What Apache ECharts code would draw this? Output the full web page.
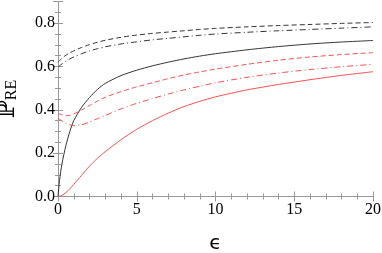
<!DOCTYPE html>
<html><head><meta charset="utf-8">
<script src="https://cdn.jsdelivr.net/npm/echarts@6/dist/echarts.min.js"></script>
<style>html,body{margin:0;padding:0;background:#fff}#c{width:382px;height:253px}</style>
</head><body><div id="c"></div>
<script>
const eps = [0, 0.1, 0.25, 0.5, 0.75, 1, 1.5, 2, 2.5, 3, 4, 5, 6, 7, 8, 9, 10, 12, 14, 16, 18, 20];
const blackSolid    = [0, 0.075, 0.15, 0.235, 0.3, 0.35, 0.412, 0.457, 0.494, 0.522, 0.558, 0.583, 0.603, 0.62, 0.635, 0.648, 0.659, 0.677, 0.692, 0.704, 0.713, 0.72];
const redSolid      = [0, 0.001, 0.005, 0.018, 0.036, 0.056, 0.098, 0.14, 0.176, 0.207, 0.262, 0.31, 0.35, 0.385, 0.415, 0.439, 0.46, 0.492, 0.517, 0.539, 0.559, 0.576];
const blackDashed   = [0.62, 0.627, 0.638, 0.652, 0.663, 0.672, 0.688, 0.701, 0.712, 0.721, 0.735, 0.745, 0.753, 0.759, 0.765, 0.771, 0.776, 0.783, 0.789, 0.794, 0.799, 0.803];
const blackDashDot  = [0.598, 0.603, 0.612, 0.625, 0.635, 0.644, 0.659, 0.672, 0.682, 0.691, 0.704, 0.714, 0.723, 0.73, 0.737, 0.744, 0.75, 0.758, 0.765, 0.771, 0.777, 0.783];
const redDashed     = [0.384, 0.381, 0.377, 0.373, 0.375, 0.381, 0.399, 0.42, 0.44, 0.458, 0.484, 0.506, 0.525, 0.544, 0.561, 0.575, 0.588, 0.61, 0.629, 0.644, 0.655, 0.664];
const redDashDot    = [0.361, 0.356, 0.349, 0.338, 0.331, 0.327, 0.331, 0.344, 0.359, 0.374, 0.404, 0.43, 0.452, 0.473, 0.492, 0.509, 0.525, 0.55, 0.57, 0.586, 0.599, 0.61];
const xTicks = [0, 5, 10, 15, 20];
const yTicks = [0.0, 0.2, 0.4, 0.6, 0.8];

const BLACK = '#333333', RED = '#ff4d4d';
const pair = arr => eps.map((e, i) => [e, arr[i]]);
const mk = (data, color, type) => ({
  type: 'line', data: pair(data), smooth: 0.25, symbol: 'none',
  lineStyle: { color, width: 1, type }, xAxisIndex: 0, yAxisIndex: 0
});
const AX = '#999999';
const FONT = '"Liberation Serif", "Times New Roman", serif';
const chart = echarts.init(document.getElementById('c'), null, { renderer: 'canvas' });
chart.setOption({
  animation: false,
  grid: { left: 58, right: 9, top: 1.5, bottom: 56.5, containLabel: false, outerBoundsMode: 'none' },
  xAxis: [{
    type: 'value', min: 0, max: 20, interval: 5,
    name: 'ϵ', nameLocation: 'middle', nameGap: 37,
    nameTextStyle: { fontFamily: 'DejaVu Sans', fontSize: 20, color: '#000' },
    axisLine: { lineStyle: { color: AX } },
    axisTick: { inside: true, length: 5, lineStyle: { color: AX } },
    minorTick: { show: true, splitNumber: 5, length: 3, lineStyle: { color: AX } },
    splitLine: { show: false },
    axisLabel: { fontFamily: FONT, fontSize: 16, color: '#000', margin: 5,
      formatter: v => xTicks.includes(v) ? String(v) : '' }
  }, {
    type: 'value', min: 0, max: 20, interval: 5, position: 'top',
    axisLine: { show: true, lineStyle: { color: AX } },
    axisTick: { inside: true, length: 5, lineStyle: { color: AX } },
    minorTick: { show: true, splitNumber: 5, length: 3, lineStyle: { color: AX } },
    splitLine: { show: false }, axisLabel: { show: false }
  }],
  yAxis: [{
    type: 'value', min: 0, max: 0.9, interval: 0.2,
    name: '{p|ℙ}{s|RE}', nameLocation: 'middle', nameGap: 38, nameRotate: 90,
    nameTextStyle: { rich: {
      p: { fontFamily: 'DejaVu Serif', fontSize: 24, color: '#000' },
      s: { fontFamily: FONT, fontSize: 16, color: '#000', padding: [8, 0, 0, 0] }
    } },
    axisLine: { show: true, lineStyle: { color: AX } },
    axisTick: { inside: true, length: 5, lineStyle: { color: AX } },
    minorTick: { show: true, splitNumber: 4, length: 3, lineStyle: { color: AX } },
    splitLine: { show: false },
    axisLabel: { fontFamily: FONT, fontSize: 16, color: '#000', margin: 3,
      formatter: v => { const t = yTicks.find(y => Math.abs(y - v) < 1e-6); return t === undefined ? '' : t.toFixed(1); } }
  }, {
    type: 'value', min: 0, max: 0.9, interval: 0.2, position: 'right',
    axisLine: { show: true, lineStyle: { color: AX } },
    axisTick: { inside: true, length: 5, lineStyle: { color: AX } },
    minorTick: { show: true, splitNumber: 4, length: 3, lineStyle: { color: AX } },
    splitLine: { show: false }, axisLabel: { show: false }
  }],
  series: [
    mk(blackSolid, BLACK, 'solid'),
    mk(redSolid, RED, 'solid'),
    mk(blackDashed, BLACK, [5, 3]),
    mk(blackDashDot, BLACK, [6, 3, 1, 3]),
    mk(redDashed, RED, [5, 3]),
    mk(redDashDot, RED, [6, 3, 1, 3])
  ]
});
</script></body></html>
